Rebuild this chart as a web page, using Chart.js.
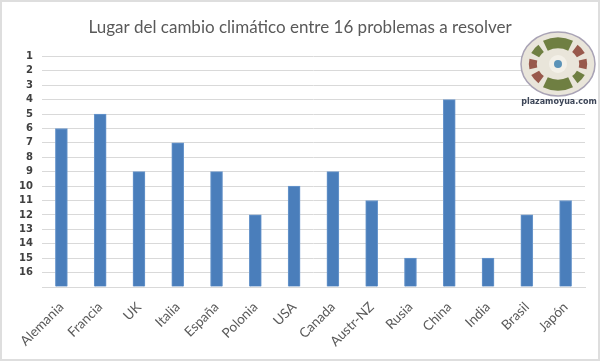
<!DOCTYPE html>
<html>
<head>
<meta charset="utf-8">
<script src="https://cdn.jsdelivr.net/npm/chart.js@4"></script>
<style>
html, body { margin: 0; padding: 0; background: #fff; }
#wrap { width: 600px; height: 361px; position: relative; }
</style>
</head>
<body>
<div id="wrap"><canvas id="chart" width="600" height="361"></canvas></div>
<script>
const categories = ['Alemania', 'Francia', 'UK', 'Italia', 'España', 'Polonia', 'USA', 'Canada', 'Austr-NZ', 'Rusia', 'China', 'India', 'Brasil', 'Japón'];
const lugar = [6, 5, 9, 7, 9, 12, 10, 9, 11, 15, 4, 15, 12, 11];
const titleText = 'Lugar del cambio climático entre 16 problemas a resolver';
const logoText = 'plazamoyua.com';

// grey frame and the little logo in the top right corner
const decoration = {
    id: 'decoration',
    afterDraw(chart) {
        const c = chart.ctx;
        c.save();
        c.strokeStyle = '#dedede';
        c.lineWidth = 2;
        c.strokeRect(1, 1, 598, 359);

        const x = 558, y = 64;
        c.beginPath();
        c.ellipse(x, y, 37, 32, 0, 0, Math.PI * 2);
        c.fillStyle = '#e9e5da';
        c.fill();
        c.strokeStyle = '#a9a3b5';
        c.lineWidth = 1.5;
        c.stroke();

        const ring = (from, to, r, w, color) => {
            const d = Math.PI / 180;
            c.beginPath();
            c.ellipse(x, y, r * 1.2, r, 0, from * d, to * d);
            c.strokeStyle = color;
            c.lineWidth = w;
            c.stroke();
        };
        ring(240, 300, 21, 11, '#6f7f42');
        ring(60, 120, 21, 11, '#6f7f42');
        ring(205, 228, 21, 9, '#6f7f42');
        ring(312, 335, 21, 9, '#98594c');
        ring(132, 155, 21, 9, '#98594c');
        ring(25, 48, 21, 9, '#6f7f42');
        ring(-12, 12, 21, 8, '#98594c');
        ring(168, 192, 21, 8, '#98594c');

        c.beginPath();
        c.arc(x, y, 9, 0, Math.PI * 2);
        c.fillStyle = '#f3f0e8';
        c.fill();
        c.beginPath();
        c.arc(x, y, 4, 0, Math.PI * 2);
        c.fillStyle = '#5b93b8';
        c.fill();

        c.font = 'bold 8px "DejaVu Sans"';
        c.fillStyle = '#3d4658';
        c.textAlign = 'center';
        c.textBaseline = 'middle';
        c.fillText(logoText, 559, 102);
        c.restore();
    }
};

new Chart(document.getElementById('chart').getContext('2d'), {
    type: 'bar',
    data: {
        labels: categories,
        datasets: [{
            data: lugar,
            base: 17,
            backgroundColor: '#4a7ebb',
            borderColor: '#6a97cc',
            borderWidth: 1,
            barThickness: 12
        }]
    },
    options: {
        responsive: false,
        animation: false,
        // equal side padding keeps the title centred on the page
        layout: { padding: { top: 0, right: 15, bottom: 0, left: 15 } },
        plugins: {
            legend: { display: false },
            tooltip: { enabled: false },
            title: {
                display: true,
                text: titleText,
                color: '#595959',
                font: { family: 'Lato', size: 17, weight: 'normal' },
                padding: { top: 17, bottom: 19 }
            }
        },
        scales: {
            x: {
                grid: { display: false },
                border: { color: '#d9d9d9' },
                ticks: {
                    color: '#595959',
                    font: { family: 'Lato', size: 13.5 },
                    maxRotation: 45,
                    minRotation: 45,
                    autoSkip: false,
                    padding: 4
                },
                afterFit(scale) { scale.height = 74; }
            },
            y: {
                reverse: true,
                min: 1,
                max: 17,
                grid: { color: '#d9d9d9', drawTicks: false },
                border: { display: false },
                ticks: {
                    stepSize: 1,
                    autoSkip: false,
                    color: '#404040',
                    font: { family: 'DejaVu Sans', size: 10, weight: 'bold' },
                    padding: 9,
                    callback: v => v === 17 ? '' : v
                },
                afterFit(scale) { scale.width = 27; }
            }
        }
    },
    plugins: [decoration]
});
</script>
</body>
</html>
